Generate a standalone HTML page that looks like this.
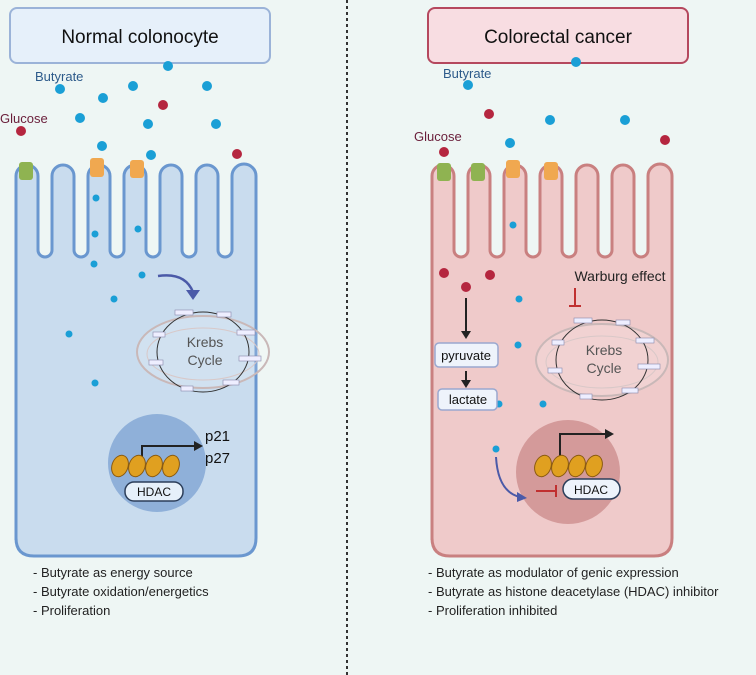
<!DOCTYPE html>
<html><head><meta charset="utf-8"><style>
body{margin:0;background:#eef6f4;}
svg{display:block;font-family:"Liberation Sans",sans-serif;}
</style></head><body>
<svg width="756" height="675" viewBox="0 0 756 675">
<rect width="756" height="675" fill="#eef6f4"/>
<line x1="347" y1="0" x2="347" y2="675" stroke="#333" stroke-width="2" stroke-dasharray="3,3"/>
<defs>
<path id="cell" d="M16 540 L16 176 A11 11 0 0 1 38 176 L38 250 A7 7 0 0 0 52 250 L52 176 A11 11 0 0 1 74 176 L74 250 A7 7 0 0 0 88 250 L88 176 A11 11 0 0 1 110 176 L110 250 A7 7 0 0 0 124 250 L124 176 A11 11 0 0 1 146 176 L146 250 A7 7 0 0 0 160 250 L160 176 A11 11 0 0 1 182 176 L182 250 A7 7 0 0 0 196 250 L196 176 A11 11 0 0 1 218 176 L218 250 A7 7 0 0 0 232 250 L232 176 A11 11 0 0 1 256 176 L256 538 Q256 556 238 556 L34 556 Q16 556 16 538 Z"/>
<g id="krebs">
<ellipse cx="0" cy="0" rx="66" ry="36" fill="rgba(255,255,255,0.15)" stroke="#c9b8b8" stroke-width="2"/>
<ellipse cx="0" cy="2" rx="56" ry="26" fill="none" stroke="#d8c8c8" stroke-width="1"/>
<ellipse cx="0" cy="0" rx="46" ry="40" fill="none" stroke="#333" stroke-width="1"/>
<rect x="-28" y="-42" width="18" height="5" fill="#eef" stroke="#88a" stroke-width="0.6"/>
<rect x="14" y="-40" width="14" height="5" fill="#eef" stroke="#88a" stroke-width="0.6"/>
<rect x="34" y="-22" width="18" height="5" fill="#eef" stroke="#88a" stroke-width="0.6"/>
<rect x="36" y="4" width="22" height="5" fill="#eef" stroke="#88a" stroke-width="0.6"/>
<rect x="20" y="28" width="16" height="5" fill="#eef" stroke="#88a" stroke-width="0.6"/>
<rect x="-22" y="34" width="12" height="5" fill="#eef" stroke="#88a" stroke-width="0.6"/>
<rect x="-54" y="8" width="14" height="5" fill="#eef" stroke="#88a" stroke-width="0.6"/>
<rect x="-50" y="-20" width="12" height="5" fill="#eef" stroke="#88a" stroke-width="0.6"/>
<text x="2" y="-5" font-size="14" fill="#555" text-anchor="middle">Krebs</text>
<text x="2" y="13" font-size="14" fill="#555" text-anchor="middle">Cycle</text>
</g>
<g id="chrom">
<ellipse cx="-30" cy="0" rx="8" ry="11" fill="#e0a020" stroke="#8a5a10" stroke-width="1" transform="rotate(20 -30 0)"/>
<ellipse cx="-13" cy="0" rx="8" ry="11" fill="#e0a020" stroke="#8a5a10" stroke-width="1" transform="rotate(20 -13 0)"/>
<ellipse cx="4" cy="0" rx="8" ry="11" fill="#e0a020" stroke="#8a5a10" stroke-width="1" transform="rotate(20 4 0)"/>
<ellipse cx="21" cy="0" rx="8" ry="11" fill="#e0a020" stroke="#8a5a10" stroke-width="1" transform="rotate(20 21 0)"/>
</g>
</defs>
<rect x="10" y="8" width="260" height="55" rx="7" fill="#e6f0fa" stroke="#9bb3d8" stroke-width="2"/>
<text x="140" y="43" font-size="19" text-anchor="middle" fill="#111">Normal colonocyte</text>
<rect x="428" y="8" width="260" height="55" rx="7" fill="#f8dde2" stroke="#b5485e" stroke-width="2"/>
<text x="558" y="43" font-size="19" text-anchor="middle" fill="#111">Colorectal cancer</text>
<use href="#cell" fill="#c9dcee" stroke="#6a97cf" stroke-width="3"/>
<g fill="#8fb351"><rect x="19" y="162" width="14" height="18" rx="3"/></g>
<g fill="#f0a850"><rect x="90" y="158" width="14" height="19" rx="3"/><rect x="130" y="160" width="14" height="18" rx="3"/></g>
<text x="35" y="81" font-size="13" fill="#2c5a8a">Butyrate</text>
<text x="0" y="123" font-size="13" fill="#6a1e3a">Glucose</text>
<g fill="#1a9fd6">
<circle cx="60" cy="89" r="5"/><circle cx="103" cy="98" r="5"/><circle cx="133" cy="86" r="5"/><circle cx="207" cy="86" r="5"/><circle cx="168" cy="66" r="5"/><circle cx="148" cy="124" r="5"/><circle cx="80" cy="118" r="5"/><circle cx="102" cy="146" r="5"/><circle cx="151" cy="155" r="5"/><circle cx="216" cy="124" r="5"/>
<circle cx="96" cy="198" r="3.5"/><circle cx="95" cy="234" r="3.5"/><circle cx="138" cy="229" r="3.5"/><circle cx="94" cy="264" r="3.5"/><circle cx="142" cy="275" r="3.5"/><circle cx="114" cy="299" r="3.5"/><circle cx="69" cy="334" r="3.5"/><circle cx="95" cy="383" r="3.5"/>
</g>
<g fill="#b5263f"><circle cx="21" cy="131" r="5"/><circle cx="163" cy="105" r="5"/><circle cx="237" cy="154" r="5"/></g>
<path d="M158 276 Q185 272 193 292" fill="none" stroke="#4b5aa8" stroke-width="2.5"/>
<polygon points="186,290 200,290 193,300" fill="#4b5aa8"/>
<use href="#krebs" transform="translate(203,352)"/>
<circle cx="157" cy="463" r="49" fill="#8fb0d9"/>
<path d="M142 462 L142 446 L196 446" fill="none" stroke="#222" stroke-width="2"/>
<polygon points="194,441 203,446 194,451" fill="#222"/>
<use href="#chrom" transform="translate(150,466)"/>
<rect x="125" y="482" width="58" height="19" rx="9" fill="#e6f0fa" stroke="#2c3e5a" stroke-width="1.5"/>
<text x="154" y="496" font-size="12" text-anchor="middle" fill="#111">HDAC</text>
<text x="205" y="441" font-size="15" fill="#111">p21</text>
<text x="205" y="463" font-size="15" fill="#111">p27</text>
<g font-size="13" fill="#222">
<text x="33" y="577">- Butyrate as energy source</text>
<text x="33" y="596">- Butyrate oxidation/energetics</text>
<text x="33" y="615">- Proliferation</text>
</g>
<use href="#cell" transform="translate(416,0)" fill="#efcaca" stroke="#c98080" stroke-width="3"/>
<g fill="#8fb351"><rect x="437" y="163" width="14" height="18" rx="3"/><rect x="471" y="163" width="14" height="18" rx="3"/></g>
<g fill="#f0a850"><rect x="506" y="160" width="14" height="18" rx="3"/><rect x="544" y="162" width="14" height="18" rx="3"/></g>
<text x="443" y="78" font-size="13" fill="#2c5a8a">Butyrate</text>
<text x="414" y="141" font-size="13" fill="#6a1e3a">Glucose</text>
<g fill="#1a9fd6">
<circle cx="468" cy="85" r="5"/><circle cx="576" cy="62" r="5"/><circle cx="510" cy="143" r="5"/><circle cx="550" cy="120" r="5"/><circle cx="625" cy="120" r="5"/>
<circle cx="513" cy="225" r="3.5"/><circle cx="519" cy="299" r="3.5"/><circle cx="518" cy="345" r="3.5"/><circle cx="499" cy="404" r="3.5"/><circle cx="543" cy="404" r="3.5"/><circle cx="496" cy="449" r="3.5"/><circle cx="529" cy="490" r="3.5"/>
</g>
<g fill="#b5263f"><circle cx="489" cy="114" r="5"/><circle cx="444" cy="152" r="5"/><circle cx="665" cy="140" r="5"/><circle cx="444" cy="273" r="5"/><circle cx="490" cy="275" r="5"/><circle cx="466" cy="287" r="5"/></g>
<line x1="466" y1="298" x2="466" y2="333" stroke="#222" stroke-width="2"/>
<polygon points="461,331 471,331 466,339" fill="#222"/>
<rect x="435" y="343" width="63" height="24" rx="4" fill="#eef3fb" stroke="#9aa8d0" stroke-width="1.5"/>
<text x="466" y="360" font-size="13" text-anchor="middle" fill="#111">pyruvate</text>
<line x1="466" y1="371" x2="466" y2="382" stroke="#222" stroke-width="2"/>
<polygon points="461,380 471,380 466,388" fill="#222"/>
<rect x="438" y="389" width="59" height="21" rx="4" fill="#eef3fb" stroke="#9aa8d0" stroke-width="1.5"/>
<text x="468" y="404" font-size="13" text-anchor="middle" fill="#111">lactate</text>
<text x="620" y="281" font-size="14" text-anchor="middle" fill="#222">Warburg effect</text>
<line x1="575" y1="288" x2="575" y2="306" stroke="#c03030" stroke-width="2"/>
<line x1="569" y1="306" x2="581" y2="306" stroke="#c03030" stroke-width="2"/>
<use href="#krebs" transform="translate(602,360)"/>
<circle cx="568" cy="472" r="52" fill="#d49a9a"/>
<path d="M560 460 L560 434 L607 434" fill="none" stroke="#222" stroke-width="2"/>
<polygon points="605,429 614,434 605,439" fill="#222"/>
<use href="#chrom" transform="translate(573,466)"/>
<rect x="563" y="479" width="57" height="20" rx="10" fill="#eef3fb" stroke="#2c3e5a" stroke-width="1.5"/>
<text x="591" y="494" font-size="12" text-anchor="middle" fill="#111">HDAC</text>
<line x1="536" y1="491" x2="556" y2="491" stroke="#c03030" stroke-width="2"/>
<line x1="556" y1="485" x2="556" y2="497" stroke="#c03030" stroke-width="2"/>
<path d="M496 457 Q498 492 520 497" fill="none" stroke="#4b5aa8" stroke-width="2"/>
<polygon points="517,492 527,498 517,502" fill="#4b5aa8"/>
<g font-size="13" fill="#222">
<text x="428" y="577">- Butyrate as modulator of genic expression</text>
<text x="428" y="596">- Butyrate as histone deacetylase (HDAC) inhibitor</text>
<text x="428" y="615">- Proliferation inhibited</text>
</g>
</svg>
</body></html>
